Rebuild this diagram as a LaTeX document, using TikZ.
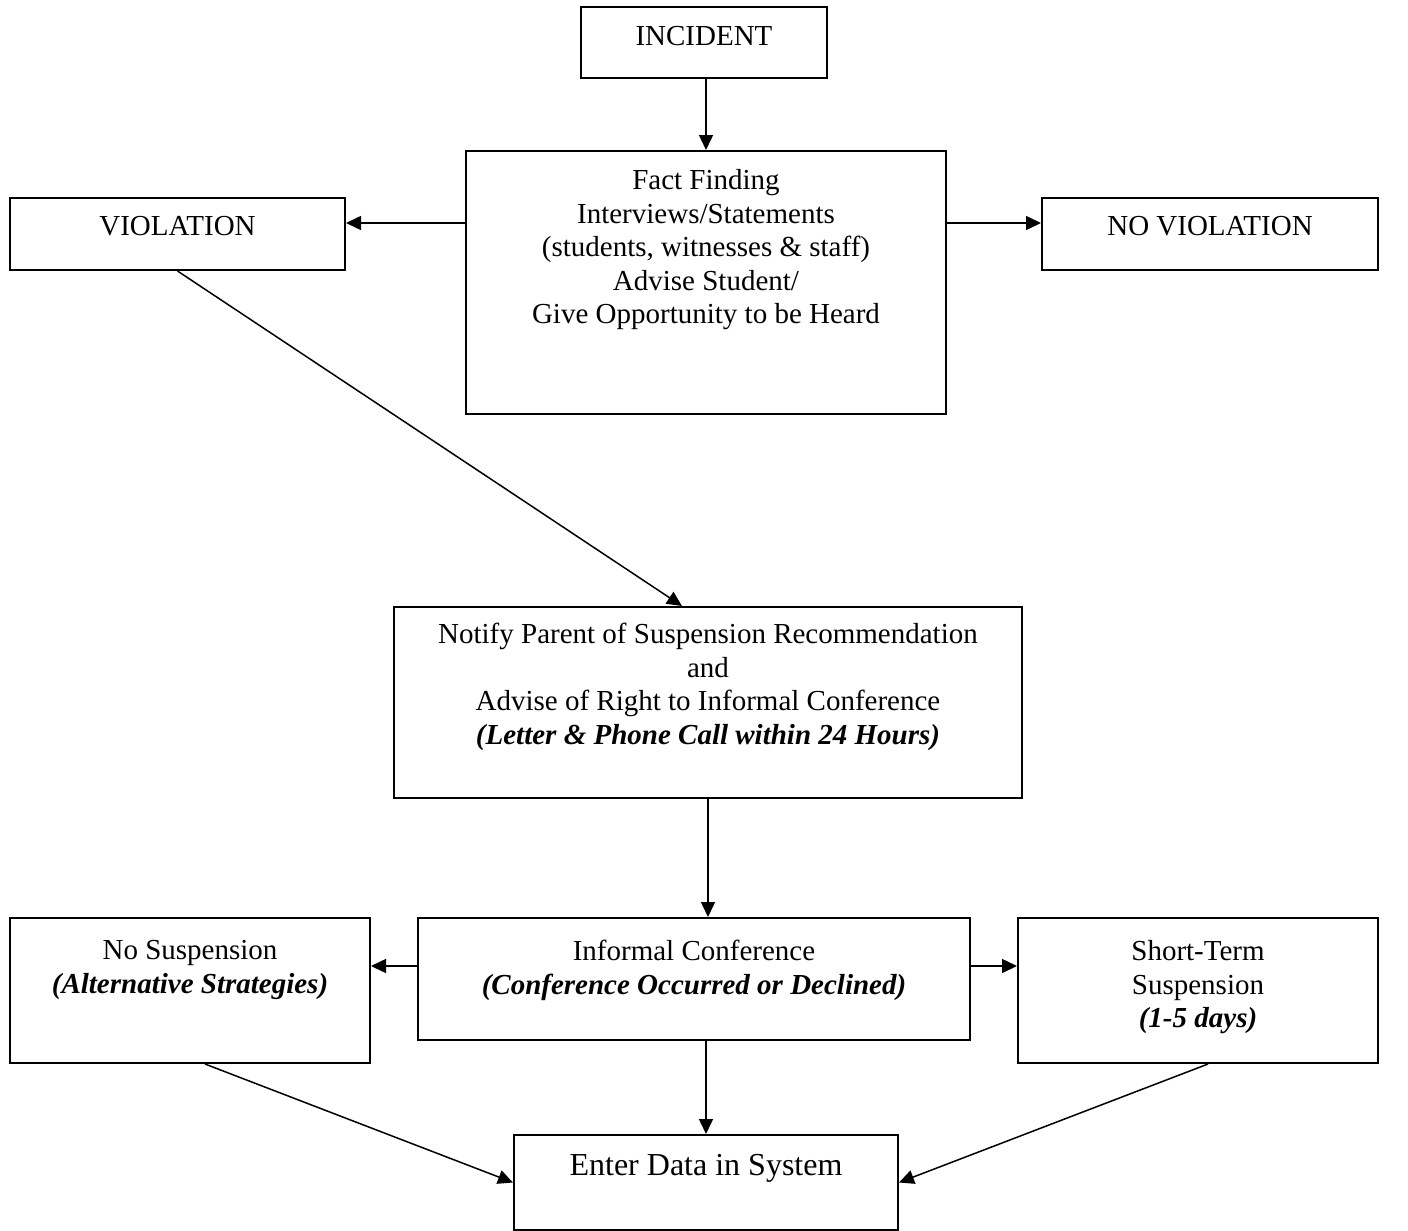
\documentclass[tikz,border=0pt]{standalone}
\usepackage{fontspec}
\setmainfont{Liberation Serif}
\usetikzlibrary{arrows.meta}

\tikzset{
  box/.style={draw, line width=1pt, rectangle, inner sep=0pt},
  toptext/.style={anchor=north, align=center, inner sep=0pt, yshift=-#1},
  toptext/.default=9.5pt,
  flow/.style={line width=0.75pt, -{Triangle[length=7.5pt, width=7pt]}},
  emph/.style={font=\fontsize{14.5}{16.75}\selectfont\bfseries\itshape}
}
\newcommand{\bi}[1]{\textbf{\textit{#1}}}

\begin{document}
\begin{tikzpicture}[x=0.5pt, y=-0.5pt, font=\fontsize{14.5}{16.75}\selectfont]
  \useasboundingbox (0,0) rectangle (1408,1231);
  % boxes, top to bottom
  \node[box, minimum width=123pt, minimum height=35.5pt,
        label={[toptext=10pt]north:INCIDENT}] (incident) at (704,42.5) {};
  \node[box, minimum width=240pt, minimum height=131.5pt,
        label={[toptext]north:{Fact Finding\\ Interviews/Statements\\
          (students, witnesses \& staff)\\ Advise Student/\\
          Give Opportunity to be Heard}}] (fact) at (706,282.5) {};
  \node[box, minimum width=167.5pt, minimum height=36pt,
        label={[toptext]north:VIOLATION}] (violation) at (177.5,234) {};
  \node[box, minimum width=168pt, minimum height=36pt,
        label={[toptext]north:NO VIOLATION}] (noviol) at (1210,234) {};
  \node[box, minimum width=314pt, minimum height=95.5pt,
        label={[toptext=8.5pt]north:{Notify Parent of Suspension Recommendation\\ and\\
          Advise of Right to Informal Conference\\
          \bi{(Letter \& Phone Call within 24 Hours)}}}] (notify) at (708,702.5) {};
  \node[box, minimum width=180pt, minimum height=72.5pt,
        label={[toptext=11.5pt]north:{No Suspension\\ \bi{(Alternative Strategies)}}}]
        (nosusp) at (190,990.5) {};
  \node[box, minimum width=276pt, minimum height=61pt,
        label={[toptext=11.5pt]north:{Informal Conference\\
          \bi{(Conference Occurred or Declined)}}}] (informal) at (694,979) {};
  \node[box, minimum width=180pt, minimum height=72.5pt,
        label={[toptext=11.5pt]north:{Short-Term\\ Suspension\\ \bi{(1-5 days)}}}]
        (shortterm) at (1198,990.5) {};
  \node[box, minimum width=192pt, minimum height=47.5pt,
        label={[toptext=10pt, font=\fontsize{16}{19}\selectfont]north:Enter Data in System}]
        (enter) at (706,1182.5) {};

  % connectors
  \draw[flow] (fact.north |- incident.south) -- (fact.north);
  \draw[flow] ([yshift=5.5pt]violation.east -| fact.west) -- ([yshift=5.5pt]violation.east);
  \draw[flow] ([yshift=5.5pt]noviol.west -| fact.east) -- ([yshift=5.5pt]noviol.west);
  \draw[flow] (violation.south) -- ([xshift=-13pt]notify.north);
  \draw[flow] (notify.south) -- (notify.south |- informal.north);
  \draw[flow] ([yshift=12.25pt]nosusp.east -| informal.west) -- ([yshift=12.25pt]nosusp.east);
  \draw[flow] ([yshift=12.25pt]shortterm.west -| informal.east) -- ([yshift=12.25pt]shortterm.west);
  \draw[flow] ([xshift=7.5pt]nosusp.south) -- (enter.west);
  \draw[flow] (enter.north |- informal.south) -- (enter.north);
  \draw[flow] ([xshift=5pt]shortterm.south) -- (enter.east);
\end{tikzpicture}
\end{document}
